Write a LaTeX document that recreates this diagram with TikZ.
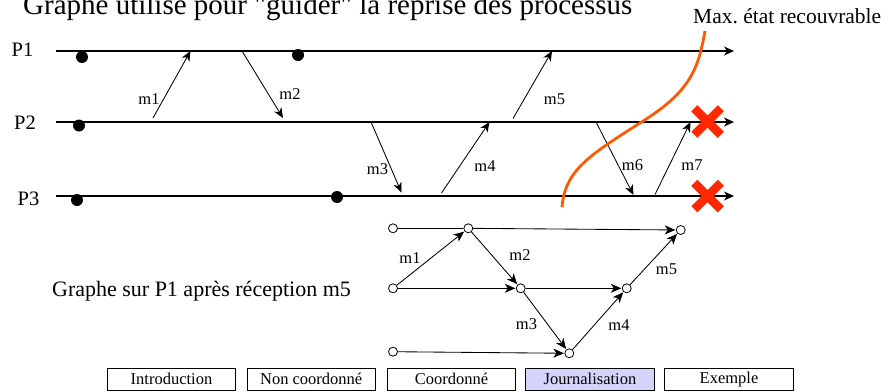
\documentclass[tikz,border=0pt]{standalone}
\usepackage{fontspec}
\setmainfont{Liberation Serif}[Ligatures=TeXOff]
\usetikzlibrary{arrows.meta,shapes.misc}

\tikzset{
  timeline/.style={line width=1.1pt,-{Stealth[length=10pt,width=9pt,inset=3pt]}},
  msg/.style={line width=0.85pt,-{Stealth[length=10pt,width=8.5pt,inset=3pt]}},
  gedge/.style={line width=0.85pt,shorten >=0.5pt,-{Stealth[length=10.5pt,width=9pt,inset=3pt]}},
  gline/.style={line width=0.85pt},
  ckpt/.style={circle,fill=black,inner sep=0pt,minimum size=12pt},
  gnode/.style={circle,draw=black,fill=white,line width=0.8pt,inner sep=0pt,minimum size=9pt},
  proc/.style={font=\fontsize{20.5}{24}\selectfont},
  mlabel/.style={font=\fontsize{16.5}{20}\selectfont,inner sep=0pt},
  failx/.style={cross out,draw=failred,line width=8.5pt,minimum size=18pt,inner sep=0pt},
  recov/.style={draw=recovorange,line width=2.8pt},
  tab/.style={draw=black,line width=0.8pt,minimum width=128.5pt,minimum height=22.5pt,
              inner sep=0pt,font=\fontsize{16.5}{20}\selectfont},
}
\definecolor{failred}{RGB}{255,40,0}
\definecolor{recovorange}{RGB}{255,90,0}
\definecolor{tabactive}{RGB}{212,212,250}

\begin{document}
\begin{tikzpicture}[x=1pt,y=-1pt]
\useasboundingbox (0,0) rectangle (888,391);

% title (runs into the top edge of the page)
\node[anchor=base west,inner sep=0pt,font=\fontsize{29}{34}\selectfont] (title) at (23,14)
  {Graphe utilisé pour "guider" la reprise des processus};

% process time lines
\node[proc] (lp1) at (22.5,50) {P1};
\node[proc] (lp2) at (25,123) {P2};
\node[proc] (lp3) at (28.5,199) {P3};
\coordinate (p1s) at (56,51);  \coordinate (p1e) at (734,51);
\coordinate (p2s) at (56,122); \coordinate (p2e) at (734,122);
\coordinate (p3s) at (56,196); \coordinate (p3e) at (734,196);
\draw[timeline] (p1s) -- (p1e);
\draw[timeline] (p2s) -- (p2e);
\draw[timeline] (p3s) -- (p3e);

% checkpoints
\node[ckpt] (c11) at (82,57) {};
\node[ckpt] (c12) at (298,55) {};
\node[ckpt] (c21) at (79,125.5) {};
\node[ckpt] (c31) at (77,200) {};
\node[ckpt] (c32) at (337,197) {};

% messages
\coordinate (m1s) at (153,118);  \coordinate (m1e) at (190.5,51);
\coordinate (m2s) at (242,51);   \coordinate (m2e) at (283,118);
\coordinate (m3s) at (371,122);  \coordinate (m3e) at (401.5,192.5);
\coordinate (m4s) at (441.5,193);\coordinate (m4e) at (489.5,122);
\coordinate (m5s) at (513,118.5);\coordinate (m5e) at (552,51);
\coordinate (m6s) at (596,122);  \coordinate (m6e) at (633.5,195);
\coordinate (m7s) at (655,194.5);\coordinate (m7e) at (690.5,122);
\draw[msg] (m1s) -- (m1e);
\draw[msg] (m2s) -- (m2e);
\draw[msg] (m3s) -- (m3e);
\draw[msg] (m4s) -- (m4e);
\draw[msg] (m5s) -- (m5e);
\draw[msg] (m6s) -- (m6e);
\draw[msg] (m7s) -- (m7e);
\node[mlabel] (lm1) at (149,99) {m1};
\node[mlabel] (lm2) at (290,94) {m2};
\node[mlabel] (lm3) at (377.5,169) {m3};
\node[mlabel] (lm4) at (485,166.5) {m4};
\node[mlabel] (lm5) at (554.5,99) {m5};
\node[mlabel] (lm6) at (632.5,165) {m6};
\node[mlabel] (lm7) at (692,165) {m7};

% failures
\node[failx] (f2) at (707.5,121.5) {};
\node[failx] (f3) at (707.5,196) {};

% maximal recoverable line
\coordinate (r0) at (562,207);
\coordinate (rm) at (640,123);
\coordinate (r1) at (705,31);
\draw[recov] (r0) .. controls (565,170) and (590,155) .. (rm)
                  .. controls (690,92) and (698,70) .. (r1);
\node[anchor=base west,inner sep=0pt,font=\fontsize{21.5}{25}\selectfont] (maxlbl) at (693,23)
  {Max.\ état recouvrable};

% dependency graph held by P1
\node[font=\fontsize{22}{26}\selectfont] (glbl) at (201.5,291) {Graphe sur P1 après réception m5};
\node[gnode] (a0) at (393,228.3) {};
\node[gnode] (a1) at (468.3,228.3) {};
\node[gnode] (a2) at (680.7,230) {};
\node[gnode] (b0) at (393,288.3) {};
\node[gnode] (b1) at (520.7,288.3) {};
\node[gnode] (b2) at (626.7,288.3) {};
\node[gnode] (g0) at (393,351.7) {};
\node[gnode] (g1) at (569.3,353.3) {};
\draw[gline] (a0) -- (a1);
\draw[gedge] (a1) -- (a2);
\draw[gedge] (b0) -- (b1);
\draw[gedge] (b1) -- (b2);
\draw[gedge] (g0) -- (g1);
\draw[gedge] (b0) -- (a1);
\draw[gedge] (a1) -- (b1);
\draw[gedge] (b1) -- (g1);
\draw[gedge] (g1) -- (b2);
\draw[gedge] (b2) -- (a2);
\node[mlabel] (gm1) at (410,258) {m1};
\node[mlabel] (gm2) at (520,255) {m2};
\node[mlabel] (gm3) at (526.5,324) {m3};
\node[mlabel] (gm4) at (619,325) {m4};
\node[mlabel] (gm5) at (666.5,269) {m5};

% navigation bar
\node[tab] (t1) at (171.5,379.2) {Introduction};
\node[tab] (t2) at (311.2,379.2) {Non coordonné};
\node[tab] (t3) at (451.5,379.2) {Coordonné};
\node[tab,fill=tabactive] (t4) at (590,379.2) {Journalisation};
\node[tab] (t5) at (729,379.2) {Exemple};
\end{tikzpicture}
\end{document}
